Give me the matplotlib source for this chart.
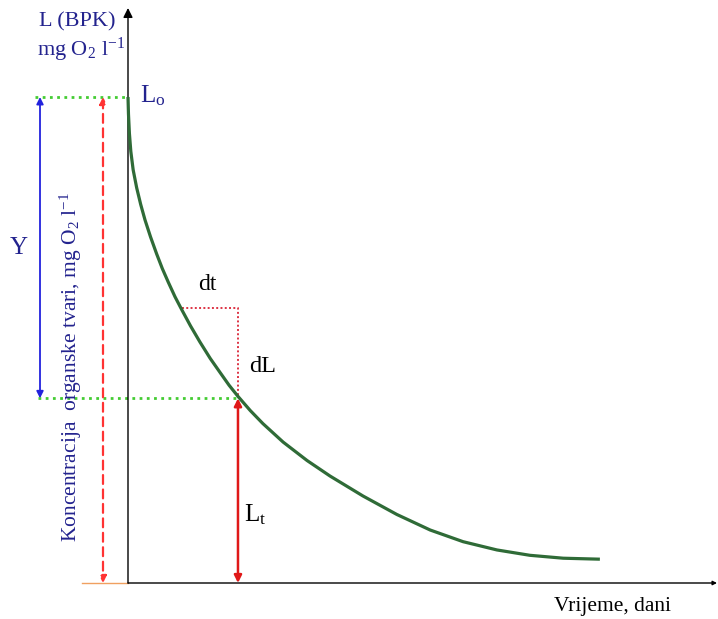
import matplotlib
matplotlib.use("Agg")
import matplotlib.pyplot as plt

# ── Data (schematic BOD decay curve) ─────────────────────────────────────────
T_DAYS = [0.0, 0.01, 0.03, 0.06, 0.11, 0.185, 0.27, 0.362, 0.48, 0.61, 0.73,
          0.857, 1.00, 1.14, 1.33, 1.53, 1.75, 1.96, 2.15, 2.34, 2.60, 2.87,
          3.30, 3.81, 4.30, 5.00, 5.72, 6.43, 7.13, 7.85, 8.55, 9.26, 10.04]
L_VALUES = [100.0, 96.5, 92.5, 88.8, 85.0, 81.3, 77.9, 74.7, 71.2, 67.7, 64.7,
            61.9, 58.9, 56.3, 52.9, 49.6, 46.2, 43.3, 40.7, 38.4, 35.5, 32.8,
            29.0, 25.2, 22.0, 17.9, 14.1, 10.9, 8.5, 6.8, 5.7, 5.1, 4.9]
L_O = 100.0        # initial BOD
T_MARK = 2.34      # time of L_t
L_T = 38.0         # remaining BOD at T_MARK
T_DT = 1.15        # start of dt step
L_DT = 56.6        # curve value at T_DT

# pixel mapping: x_px = 128 + 47 t, y_px = 583 - 4.86 L
XMIN, XMAX = -128 / 47, (718 - 128) / 47
YMIN, YMAX = -36 / 4.86, 583 / 4.86

DARK_BLUE = "#23238e"
GREEN = "#2f6b37"

plt.rcParams.update({
    "font.family": ["Liberation Serif", "DejaVu Serif"],
    "mathtext.fontset": "custom",
    "mathtext.rm": "Liberation Serif",
    "mathtext.it": "Liberation Serif:italic",
})

fig = plt.figure(figsize=(7.18, 6.19), dpi=100)
ax = fig.add_axes([0, 0, 1, 1])
ax.set_xlim(XMIN, XMAX)
ax.set_ylim(YMIN, YMAX)
ax.axis("off")


def px_x(p):
    return (p - 128) / 47


def px_y(p):
    return (583 - p) / 4.86


# ── Axes arrows ──────────────────────────────────────────────────────────────
ax.annotate("", xy=(0, px_y(8)), xytext=(0, 0),
            arrowprops=dict(arrowstyle="-|>", color="black", lw=1.0,
                            mutation_scale=14, shrinkA=0, shrinkB=0))
ax.annotate("", xy=(px_x(717), 0), xytext=(0, 0),
            arrowprops=dict(arrowstyle="-|>", color="black", lw=1.0,
                            mutation_scale=6, shrinkA=0, shrinkB=0))
ax.plot([px_x(82), 0], [0, 0], color="#f0a060", lw=1.0)

# ── Guide lines ──────────────────────────────────────────────────────────────
ax.plot([px_x(35), 0], [L_O, L_O], color="#44cc33", lw=2.0,
        linestyle=(0, (1, 1.6)))
ax.plot([px_x(38), T_MARK], [L_T, L_T], color="#44cc33", lw=2.0,
        linestyle=(0, (1, 1.6)))

# Y: blue double arrow
ax.annotate("", xy=(px_x(40), L_T), xytext=(px_x(40), L_O),
            arrowprops=dict(arrowstyle="<|-|>", color="#2222dd", lw=1.3,
                            mutation_scale=10, shrinkA=0, shrinkB=0))
# red dashed double arrow
ax.annotate("", xy=(px_x(103), 0), xytext=(px_x(103), L_O),
            arrowprops=dict(arrowstyle="<|-|>", color="#ff3333", lw=1.6,
                            linestyle=(0, (4, 2.5)), mutation_scale=10,
                            shrinkA=0, shrinkB=0))

# dt / dL dotted step
ax.plot([T_DT, T_MARK, T_MARK], [L_DT, L_DT, L_T], color="#dd3344", lw=1.4,
        linestyle=(0, (1, 1.2)))

# L_t solid red double arrow
ax.annotate("", xy=(T_MARK, 0), xytext=(T_MARK, L_T),
            arrowprops=dict(arrowstyle="<|-|>", color="#e01818", lw=1.8,
                            mutation_scale=11, shrinkA=0, shrinkB=0))

# ── Curve ────────────────────────────────────────────────────────────────────
ax.plot(T_DAYS, L_VALUES, color=GREEN, lw=2.3, solid_joinstyle="round",
        solid_capstyle="butt", zorder=3)

# ── Text ─────────────────────────────────────────────────────────────────────
ax.text(px_x(77), px_y(22), "L (BPK)", color=DARK_BLUE, fontsize=16,
        ha="center", va="center")
ax.text(px_x(81), px_y(50), "mg O$_2$ l$^{-1}$", color=DARK_BLUE, fontsize=16,
        ha="center", va="center")
ax.text(px_x(140), px_y(96), "L$_\\mathrm{o}$", color=DARK_BLUE, fontsize=18,
        ha="left", va="center")
ax.text(px_x(19), px_y(248), "Y", color=DARK_BLUE, fontsize=18,
        ha="center", va="center")
ax.text(px_x(71), px_y(367), "Koncentracija  organske tvari, mg O$_2$ l$^{-1}$",
        color=DARK_BLUE, fontsize=15.5, rotation=90, ha="center", va="center")
ax.text(px_x(207), px_y(285), "dt", color="black", fontsize=17,
        ha="center", va="center")
ax.text(px_x(263), px_y(367), "dL", color="black", fontsize=17.5,
        ha="center", va="center")
ax.text(px_x(244), px_y(515), "L$_\\mathrm{t}$", color="black", fontsize=18,
        ha="left", va="center")
ax.text(px_x(613), px_y(606), "Vrijeme, dani", color="black", fontsize=15.5,
        ha="center", va="center")

fig.savefig("out.png", dpi=100, facecolor="white")
